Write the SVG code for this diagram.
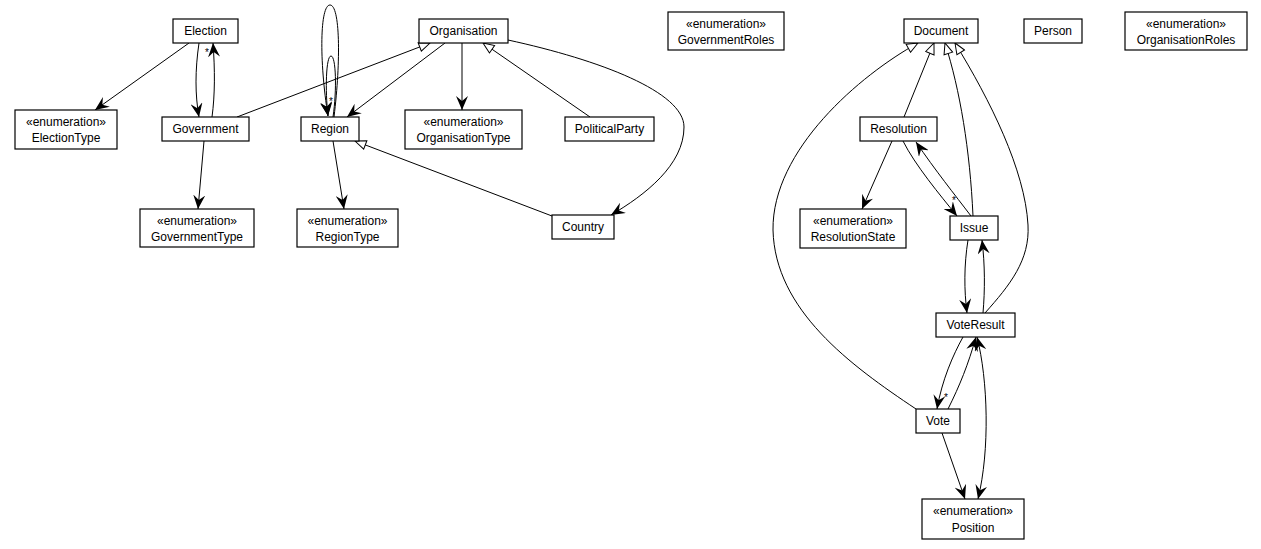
<svg xmlns="http://www.w3.org/2000/svg" width="1261" height="549" viewBox="0 0 1261 549">
<style>
.box{fill:#fff;stroke:#000;stroke-width:1.2}
.t{font-family:"Liberation Sans",Arial,sans-serif;font-size:12px;text-anchor:middle;fill:#000}
.st{font-family:"Liberation Sans",Arial,sans-serif;font-size:12px;text-anchor:middle;fill:#000}
.m{font-family:"Liberation Sans",Arial,sans-serif;font-size:10px;text-anchor:middle;fill:#000}
.e{fill:none;stroke:#000;stroke-width:1}
.a{marker-end:url(#vee)}
.g{marker-end:url(#tri)}
</style>
<defs>
<marker id="vee" viewBox="0 0 14 12" refX="14" refY="6" markerWidth="14" markerHeight="12" markerUnits="userSpaceOnUse" orient="auto">
<path d="M0,0 L14,6 L0,12 L5,6 z" fill="#000"/>
</marker>
<marker id="veeS" viewBox="0 0 14 12" refX="14" refY="6" markerWidth="14" markerHeight="12" markerUnits="userSpaceOnUse" orient="auto-start-reverse">
<path d="M0,0 L14,6 L0,12 L5,6 z" fill="#000"/>
</marker>
<marker id="tri" viewBox="0 0 13 11" refX="12" refY="5.5" markerWidth="13" markerHeight="11" markerUnits="userSpaceOnUse" orient="auto">
<path d="M1,1 L12,5.5 L1,10 z" fill="#fff" stroke="#000" stroke-width="1"/>
</marker>
</defs>

<g id="connectors">
<path class="e a" d="M189,43 L95,110"/>
<path class="e a" d="M199,43 C195,70 195,95 199,117"/>
<path class="e a" d="M212,117 C215,95 215,70 213,43"/>
<text class="m" x="207" y="56">*</text>
<path class="e a" d="M204,141 L198,209"/>
<path class="e g" d="M237,117 L430,43"/>
<path class="e a" d="M445,43 L347,117"/>
<path class="e a" d="M462,43 L462,110"/>
<path class="e g" d="M590,117 L483,43"/>
<path class="e a" d="M508,40 C600,60 684,92 684,127 C684,165 645,195 611,215"/>
<path class="e a" d="M334,117 C341,60 340,5 330,5 C320,5 319,60 328,116"/>
<path class="e a" d="M333,117 C337,90 336,56 331,56 C326,56 325,90 328,116"/>
<text class="m" x="331" y="105">*</text>
<path class="e a" d="M333,141 L344,209"/>
<path class="e g" d="M552,216 L355,141"/>
<path class="e g" d="M916,409 C850,365 775,310 773,230 C772,150 860,75 918,43"/>
<path class="e g" d="M904,117 L934,43"/>
<path class="e g" d="M973,216 C970,150 960,90 945,43"/>
<path class="e g" d="M985,313 C1010,285 1030,260 1028,225 C1025,170 990,100 955,43"/>
<path class="e a" d="M892,141 L862,209"/>
<path class="e a" d="M903,141 C915,165 940,195 957,216"/>
<text class="m" x="954" y="204">*</text>
<path class="e a" d="M971,216 C955,195 935,170 916,142"/>
<path class="e a" d="M968,240 C964,265 964,290 967,313"/>
<path class="e a" d="M983,313 C985,290 985,265 982,240"/>
<path class="e a" d="M963,337 C953,355 942,380 937,409"/>
<text class="m" x="946" y="401">*</text>
<path class="e a" d="M948,409 C960,385 968,365 976,337"/>
<path class="e a" d="M977,337 C988,380 990,450 978,499" marker-start="url(#veeS)"/>
<path class="e a" d="M942,433 L965,499"/>
</g>

<g id="Election"><rect class="box" x="173" y="19" width="65" height="24"/><text class="t" x="205.5" y="35">Election</text></g>
<g id="ElectionType"><rect class="box" x="15" y="110" width="102" height="39"/><text class="st" x="66" y="126">«enumeration»</text><text class="t" x="66" y="142">ElectionType</text></g>
<g id="Government"><rect class="box" x="162" y="117" width="87" height="24"/><text class="t" x="205.5" y="133">Government</text></g>
<g id="GovernmentType"><rect class="box" x="140" y="209" width="114" height="38"/><text class="st" x="197" y="225">«enumeration»</text><text class="t" x="197" y="241">GovernmentType</text></g>
<g id="Organisation"><rect class="box" x="419" y="19" width="89" height="24"/><text class="t" x="463.5" y="35">Organisation</text></g>
<g id="Region"><rect class="box" x="301" y="117" width="58" height="24"/><text class="t" x="330" y="133">Region</text></g>
<g id="OrganisationType"><rect class="box" x="405" y="110" width="117" height="39"/><text class="st" x="463.5" y="126">«enumeration»</text><text class="t" x="463.5" y="142">OrganisationType</text></g>
<g id="PoliticalParty"><rect class="box" x="565" y="117" width="89" height="24"/><text class="t" x="609.5" y="133">PoliticalParty</text></g>
<g id="RegionType"><rect class="box" x="297" y="209" width="101" height="38"/><text class="st" x="347.5" y="225">«enumeration»</text><text class="t" x="347.5" y="241">RegionType</text></g>
<g id="Country"><rect class="box" x="552" y="215" width="62" height="24"/><text class="t" x="583" y="231">Country</text></g>
<g id="GovernmentRoles"><rect class="box" x="668" y="12" width="116" height="38"/><text class="st" x="726" y="28">«enumeration»</text><text class="t" x="726" y="44">GovernmentRoles</text></g>
<g id="Document"><rect class="box" x="904" y="19" width="74" height="24"/><text class="t" x="941" y="35">Document</text></g>
<g id="Person"><rect class="box" x="1024" y="19" width="58" height="24"/><text class="t" x="1053" y="35">Person</text></g>
<g id="OrganisationRoles"><rect class="box" x="1125" y="12" width="122" height="38"/><text class="st" x="1186" y="28">«enumeration»</text><text class="t" x="1186" y="44">OrganisationRoles</text></g>
<g id="Resolution"><rect class="box" x="860" y="117" width="77" height="24"/><text class="t" x="898.5" y="133">Resolution</text></g>
<g id="ResolutionState"><rect class="box" x="800" y="209" width="106" height="39"/><text class="st" x="853" y="225">«enumeration»</text><text class="t" x="853" y="241">ResolutionState</text></g>
<g id="Issue"><rect class="box" x="950" y="216" width="48" height="24"/><text class="t" x="974" y="232">Issue</text></g>
<g id="VoteResult"><rect class="box" x="936" y="313" width="79" height="24"/><text class="t" x="975.5" y="329">VoteResult</text></g>
<g id="Vote"><rect class="box" x="916" y="409" width="44" height="24"/><text class="t" x="938" y="425">Vote</text></g>
<g id="Position"><rect class="box" x="922" y="499" width="102" height="40"/><text class="st" x="973" y="515">«enumeration»</text><text class="t" x="973" y="532">Position</text></g>
</svg>
